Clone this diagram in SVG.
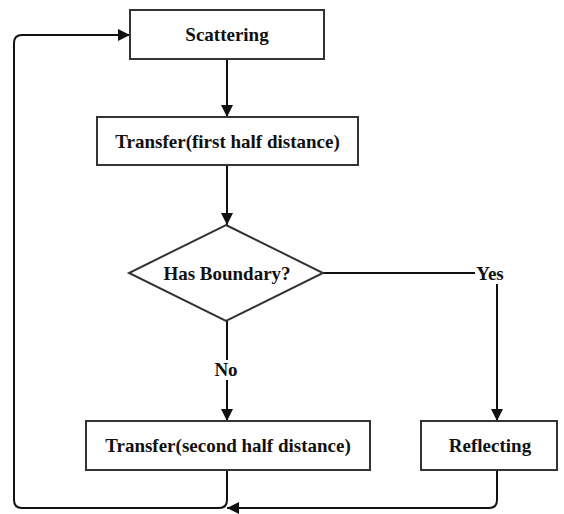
<svg xmlns="http://www.w3.org/2000/svg" width="564" height="514" viewBox="0 0 564 514">
<style>
.box{fill:#fff;stroke:#333;stroke-width:2}
.t{font-family:"Liberation Serif","Times New Roman",serif;font-weight:bold;font-size:19px;fill:#111;text-anchor:middle}
.c{fill:none;stroke:#111;stroke-width:2}
</style>
<defs>
<marker id="ah" viewBox="0 0 10 10" refX="10" refY="5" markerWidth="13" markerHeight="12" markerUnits="userSpaceOnUse" orient="auto">
<path d="M0,0 L10,5 L0,10 Z" fill="#111"/>
</marker>
</defs>
<rect width="564" height="514" fill="#fff"/>
<g id="connectors">
<path class="c" d="M227,59 V117" marker-end="url(#ah)"/>
<path class="c" d="M227,165 V225" marker-end="url(#ah)"/>
<path class="c" d="M227,321 V360"/>
<path class="c" d="M227,380 V421" marker-end="url(#ah)"/>
<path class="c" d="M323,273 H475"/>
<path class="c" d="M497,284 V421" marker-end="url(#ah)"/>
<path class="c" d="M497,470 V500 Q497,508 489,508 H227" marker-end="url(#ah)"/>
<path class="c" d="M227,470 V500 Q227,508 219,508 H22 Q14,508 14,500 V43 Q14,35 22,35 H130" marker-end="url(#ah)"/>
</g>
<g id="scattering">
<rect class="box" x="130" y="10" width="194" height="49"/>
<text class="t" x="227" y="41">Scattering</text>
</g>
<g id="transfer1">
<rect class="box" x="97" y="117" width="261" height="48"/>
<text class="t" x="227.5" y="148">Transfer(first half distance)</text>
</g>
<g id="boundary">
<polygon class="box" points="226,225 323,273 226,321 129,273"/>
<text class="t" x="227" y="280">Has Boundary?</text>
</g>
<g id="yes-label"><text class="t" x="490" y="280">Yes</text></g>
<g id="no-label"><text class="t" x="226" y="376">No</text></g>
<g id="transfer2">
<rect class="box" x="86" y="421" width="284" height="49"/>
<text class="t" x="228" y="452">Transfer(second half distance)</text>
</g>
<g id="reflecting">
<rect class="box" x="421" y="421" width="136" height="49"/>
<text class="t" x="490" y="452">Reflecting</text>
</g>
</svg>
